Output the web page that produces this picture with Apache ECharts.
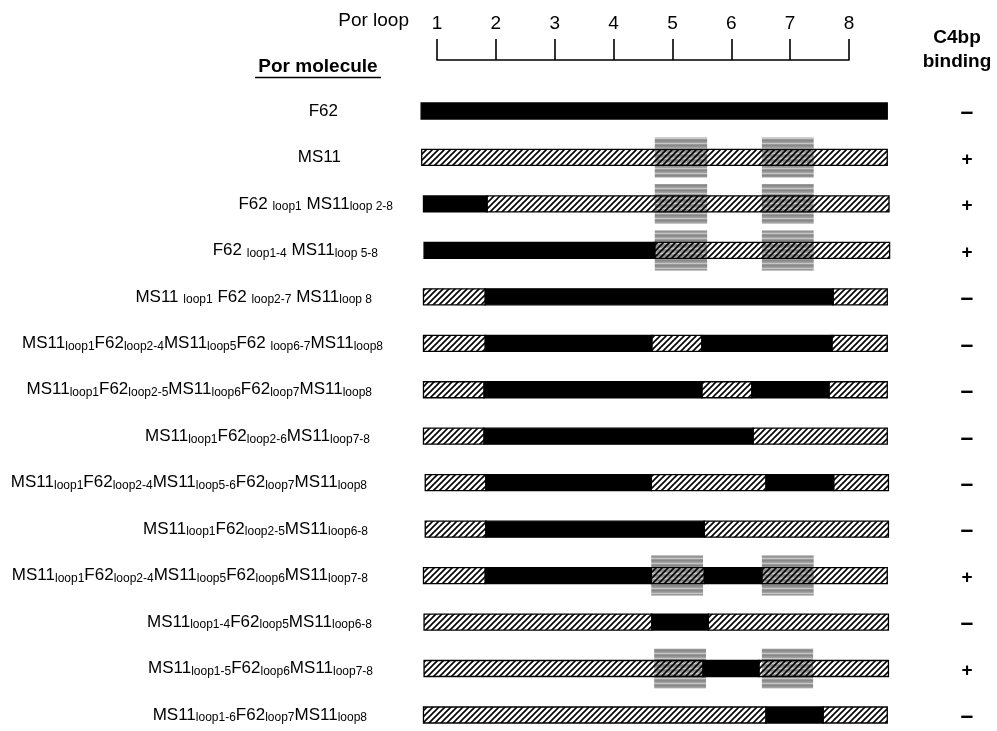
<!DOCTYPE html>
<html><head><meta charset="utf-8">
<script src="https://cdn.jsdelivr.net/npm/echarts@6/dist/echarts.min.js"></script>
<style>html,body{margin:0;padding:0;background:#fff}#c{width:997px;height:731px}</style>
</head><body><div id="c"></div>
<script>
// ---------- data ----------
const loopTicks = [1, 2, 3, 4, 5, 6, 7, 8];
// molecule names: parts between "_" are subscripts
const molecules = [
  'F62',
  'MS11',
  'F62 _loop1_ MS11_loop 2-8_',
  'F62 _loop1-4_ MS11_loop 5-8_',
  'MS11 _loop1_ F62 _loop2-7_ MS11_loop 8_',
  'MS11_loop1_F62_loop2-4_MS11_loop5_F62 _loop6-7_MS11_loop8_',
  'MS11_loop1_F62_loop2-5_MS11_loop6_F62_loop7_MS11_loop8_',
  'MS11_loop1_F62_loop2-6_MS11_loop7-8_',
  'MS11_loop1_F62_loop2-4_MS11_loop5-6_F62_loop7_MS11_loop8_',
  'MS11_loop1_F62_loop2-5_MS11_loop6-8_',
  'MS11_loop1_F62_loop2-4_MS11_loop5_F62_loop6_MS11_loop7-8_',
  'MS11_loop1-4_F62_loop5_MS11_loop6-8_',
  'MS11_loop1-5_F62_loop6_MS11_loop7-8_',
  'MS11_loop1-6_F62_loop7_MS11_loop8_'
];
const binding = ['-', '+', '+', '+', '-', '-', '-', '-', '-', '-', '+', '-', '+', '-'];
// segments per molecule: [from, to, source]  (F = F62, M = MS11), in loop-axis units
const segments = [
  [[0.73, 8.65, 'F']],
  [[0.74, 8.65, 'M']],
  [[0.77, 1.85, 'F'], [1.85, 8.68, 'M']],
  [[0.78, 4.70, 'F'], [4.70, 8.69, 'M']],
  [[0.77, 1.82, 'M'], [1.82, 7.73, 'F'], [7.73, 8.65, 'M']],
  [[0.77, 1.82, 'M'], [1.82, 4.65, 'F'], [4.65, 5.50, 'M'], [5.50, 7.71, 'F'], [7.71, 8.65, 'M']],
  [[0.77, 1.80, 'M'], [1.80, 5.50, 'F'], [5.50, 6.35, 'M'], [6.35, 7.66, 'F'], [7.66, 8.65, 'M']],
  [[0.77, 1.80, 'M'], [1.80, 6.37, 'F'], [6.37, 8.65, 'M']],
  [[0.80, 1.83, 'M'], [1.83, 4.64, 'F'], [4.64, 6.59, 'M'], [6.59, 7.74, 'F'], [7.74, 8.67, 'M']],
  [[0.80, 1.83, 'M'], [1.83, 5.54, 'F'], [5.54, 8.67, 'M']],
  [[0.77, 1.82, 'M'], [1.82, 4.64, 'F'], [4.64, 5.54, 'M'], [5.54, 6.52, 'F'], [6.52, 8.65, 'M']],
  [[0.78, 4.65, 'M'], [4.65, 5.61, 'F'], [5.61, 8.67, 'M']],
  [[0.78, 5.52, 'M'], [5.52, 6.47, 'F'], [6.47, 8.67, 'M']],
  [[0.77, 6.59, 'M'], [6.59, 7.56, 'F'], [7.56, 8.65, 'M']]
];
// shaded (binding-region) boxes: [row, from, to]
const shaded = [
  [1, 4.70, 5.59], [1, 6.52, 7.40],
  [2, 4.70, 5.59], [2, 6.52, 7.40],
  [3, 4.70, 5.59], [3, 6.52, 7.40],
  [10, 4.64, 5.52], [10, 6.52, 7.40],
  [12, 4.69, 5.57], [12, 6.52, 7.39]
];

// ---------- layout / style ----------
const FONT = '"Liberation Sans", Arial, sans-serif';
const labelRight = [338, 341, 393, 378, 372, 383, 372, 370, 367, 368, 368, 372, 373, 367];

function makeHatch() {
  const c = document.createElement('canvas');
  c.width = 6; c.height = 6;
  const g = c.getContext('2d');
  g.strokeStyle = '#000'; g.lineWidth = 1.6;
  g.beginPath();
  g.moveTo(-1, 7); g.lineTo(7, -1);
  g.moveTo(-4, 4); g.lineTo(4, -4);
  g.moveTo(2, 10); g.lineTo(10, 2);
  g.stroke();
  return c;
}
function makeStripes() {
  const c = document.createElement('canvas');
  c.width = 4; c.height = 5;
  const g = c.getContext('2d');
  const cols = ['#878787', '#939393', '#a2a2a2', '#c6c6c6', '#9a9a9a'];
  cols.forEach((col, i) => { g.fillStyle = col; g.fillRect(0, i, 4, 1); });
  return c;
}
const hatch = { image: makeHatch(), repeat: 'repeat' };
const stripes = { image: makeStripes(), repeat: 'repeat' };

const segData = [];
segments.forEach((row, r) => row.forEach(s => segData.push([s[0], s[1], r, s[2] === 'F' ? 1 : 0])));
const shadeData = shaded.map(s => [s[1], s[2], s[0]]);

const rich = {
  m: { fontSize: 17, fontFamily: FONT, color: '#000', lineHeight: 18 },
  s: { fontSize: 12, fontFamily: FONT, color: '#000', lineHeight: 10, verticalAlign: 'bottom' }
};
labelRight.forEach((r, i) => { rich['p' + i] = { width: 393 - r, fontSize: 10, lineHeight: 10 }; });

function buildLabel(str, idx) {
  const parts = str.split('_');
  let out = '';
  parts.forEach((p, i) => {
    if (!p) return;
    out += (i % 2 ? '{s|' : '{m|') + p + '}';
  });
  if (393 - labelRight[idx] > 0) out += '{p' + idx + '| }';
  return out;
}

const chart = echarts.init(document.getElementById('c'), null, { renderer: 'canvas' });
const bandH = 46.46;
chart.setOption({
  animation: false,
  backgroundColor: '#fff',
  textStyle: { fontFamily: FONT },
  grid: [
    { left: 421, width: 466, top: 111 - bandH / 2, height: bandH * 14, outerBoundsMode: 'none', containLabel: false },
    { left: 437, width: 412, top: 0, height: 60, outerBoundsMode: 'none', containLabel: false }
  ],
  xAxis: [
    { type: 'value', gridIndex: 0, min: 0.728, max: 8.6456, show: false },
    {
      type: 'value', gridIndex: 1, min: 1, max: 8, interval: 1, position: 'bottom',
      axisLine: { show: true, lineStyle: { color: '#000', width: 1.6 } },
      axisTick: { show: true, inside: true, length: 21, lineStyle: { color: '#000', width: 1.6 } },
      axisLabel: { show: true, inside: true, margin: 27, color: '#000', fontSize: 19, fontFamily: FONT,
        formatter: v => String(loopTicks[v - 1]) },
      splitLine: { show: false }
    }
  ],
  yAxis: [
    {
      type: 'category', gridIndex: 0, data: molecules, inverse: true,
      axisLine: { show: false }, axisTick: { show: false }, splitLine: { show: false },
      axisLabel: { interval: 0, margin: 28, formatter: (v, i) => buildLabel(v, i), rich: rich }
    },
    {
      type: 'category', gridIndex: 0, data: binding, inverse: true, position: 'right',
      axisLine: { show: false }, axisTick: { show: false }, splitLine: { show: false },
      axisLabel: {
        interval: 0, margin: 80, align: 'center',
        formatter: v => v === '+' ? '{p|+}' : '{n|\u2013}',
        rich: {
          p: { fontSize: 19, fontWeight: 'bold', fontFamily: FONT, color: '#000', padding: [4, 0, 0, 0] },
          n: { fontSize: 23, fontWeight: 'bold', fontFamily: FONT, color: '#000', padding: [4, 0, 0, 0] }
        }
      }
    },
    { type: 'value', gridIndex: 1, min: 0, max: 1, show: false }
  ],
  series: [
    {
      type: 'custom', xAxisIndex: 0, yAxisIndex: 0, data: shadeData, encode: { x: [0, 1], y: 2 }, z: 1,
      renderItem: (params, api) => {
        const a = api.coord([api.value(0), api.value(2)]);
        const b = api.coord([api.value(1), api.value(2)]);
        const h = 40;
        return { type: 'rect', shape: { x: a[0], y: a[1] - h / 2, width: b[0] - a[0], height: h },
          style: { fill: stripes } };
      }
    },
    {
      type: 'custom', xAxisIndex: 0, yAxisIndex: 0, data: segData, encode: { x: [0, 1], y: 2 }, z: 3,
      renderItem: (params, api) => {
        const a = api.coord([api.value(0), api.value(2)]);
        const b = api.coord([api.value(1), api.value(2)]);
        const h = 16;
        const f = api.value(3) === 1;
        return { type: 'rect', shape: { x: a[0], y: a[1] - h / 2, width: b[0] - a[0], height: h },
          style: { fill: f ? '#000' : hatch, stroke: '#000', lineWidth: 1.3 } };
      }
    },
    { type: 'line', xAxisIndex: 1, yAxisIndex: 2, data: [], showSymbol: false }
  ],
  graphic: [
    { type: 'text', x: 409, y: 21, style: { text: 'Por loop', align: 'right', verticalAlign: 'middle', fontSize: 19, fontFamily: FONT, fill: '#000' } },
    { type: 'text', x: 318, y: 67, style: { text: 'Por molecule', align: 'center', verticalAlign: 'middle', fontSize: 19, fontWeight: 'bold', fontFamily: FONT, fill: '#000' } },
    { type: 'line', shape: { x1: 255, y1: 77.5, x2: 381, y2: 77.5 }, style: { stroke: '#000', lineWidth: 1.5 } },
    { type: 'text', x: 957, y: 38, style: { text: 'C4bp', align: 'center', verticalAlign: 'middle', fontSize: 19, fontWeight: 'bold', fontFamily: FONT, fill: '#000' } },
    { type: 'text', x: 957, y: 62, style: { text: 'binding', align: 'center', verticalAlign: 'middle', fontSize: 19, fontWeight: 'bold', fontFamily: FONT, fill: '#000' } }
  ]
});
</script></body></html>
